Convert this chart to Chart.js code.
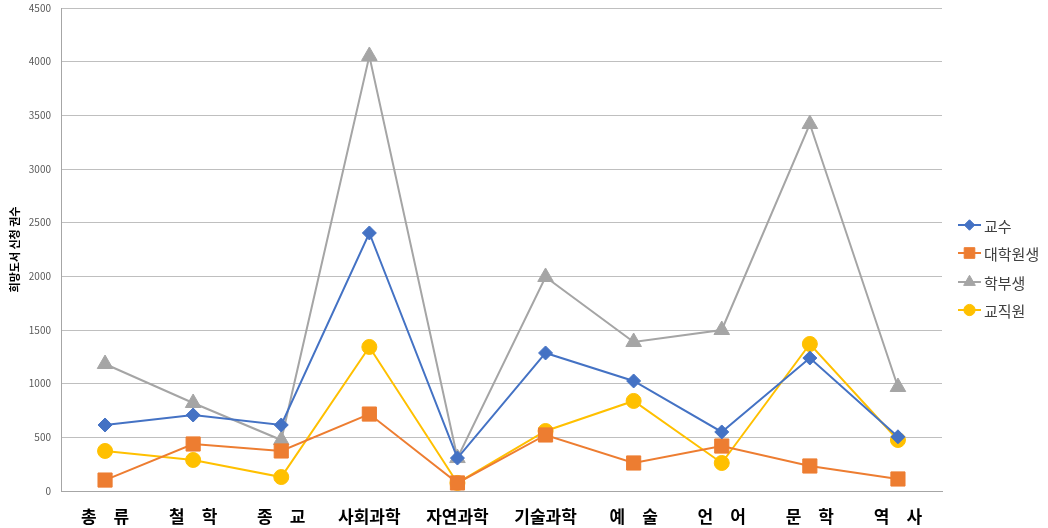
<!DOCTYPE html>
<html>
<head>
<meta charset="utf-8">
<script src="https://cdn.jsdelivr.net/npm/chart.js@4"></script>
<style>
  html, body { margin: 0; padding: 0; background: #fff; }
  #wrap { width: 1048px; height: 528px; position: relative; }
</style>
</head>
<body>
<div id="wrap"><canvas id="chart"></canvas></div>
<script>
// categories (subject classes)
const categories = ['총\u3000류', '철\u3000학', '종\u3000교', '사회과학', '자연과학', '기술과학', '예\u3000술', '언\u3000어', '문\u3000학', '역\u3000사'];

// requested books per user group
const professors = [615, 708, 615, 2404, 307, 1286, 1025, 550, 1239, 505];
const gradStudents = [102, 438, 373, 717, 75, 522, 261, 419, 233, 112];
const undergrads = [1183, 820, 475, 4053, 307, 1994, 1388, 1500, 3419, 969];
const staff = [373, 289, 130, 1342, 75, 559, 839, 261, 1370, 475];

const seriesNames = ['교수', '대학원생', '학부생', '교직원'];
const yTicks = [0, 500, 1000, 1500, 2000, 2500, 3000, 3500, 4000, 4500];

const FONT = "'Noto Sans CJK KR', 'Noto Sans', sans-serif";

function makeSet(label, data, color, style, radius) {
    return {
        label: label,
        data: data,
        borderColor: color,
        backgroundColor: color,
        borderWidth: 2,
        pointStyle: style,
        pointRadius: radius,
        pointHoverRadius: radius,
        pointBorderWidth: 1,
        tension: 0
    };
}

// legend on the right: short line with the marker, then the name
const sideLegend = {
    id: 'sideLegend',
    afterDraw(chart) {
        const c = chart.ctx;
        const rows = [225, 253, 282, 310];
        chart.data.datasets.forEach((ds, i) => {
            const y = rows[i];
            c.save();
            c.strokeStyle = ds.borderColor;
            c.lineWidth = 2;
            c.beginPath();
            c.moveTo(958, y);
            c.lineTo(981, y);
            c.stroke();
            c.fillStyle = ds.backgroundColor;
            c.lineWidth = 1;
            Chart.helpers.drawPoint(c, {
                pointStyle: ds.pointStyle,
                rotation: 0,
                radius: ds.pointRadius * 0.75,
                borderWidth: 1
            }, 969.5, y);
            c.restore();
            c.fillStyle = '#404040';
            c.font = '15px ' + FONT;
            c.textBaseline = 'middle';
            c.fillText(ds.label, 984, y + 1);
        });
    }
};

const ctx = document.getElementById('chart');
new Chart(ctx, {
    type: 'line',
    data: {
        labels: categories,
        datasets: [
            makeSet(seriesNames[0], professors, '#4472C4', 'rectRot', 7),
            makeSet(seriesNames[1], gradStudents, '#ED7D31', 'rect', 10),
            makeSet(seriesNames[2], undergrads, '#A5A5A5', 'triangle', 9),
            makeSet(seriesNames[3], staff, '#FFC000', 'circle', 7.5)
        ]
    },
    options: {
        responsive: true,
        maintainAspectRatio: false,
        animation: false,
        layout: { autoPadding: false, padding: { top: 8, right: 106, bottom: 0, left: 8 } },
        plugins: {
            legend: { display: false },
            tooltip: { enabled: false }
        },
        scales: {
            x: {
                offset: true,
                grid: { display: false },
                border: { color: '#A6A6A6', width: 1 },
                ticks: {
                    color: '#000',
                    font: { family: FONT, size: 17, weight: 'bold' },
                    maxRotation: 0,
                    autoSkip: false,
                    padding: 7
                },
                afterFit(scale) { scale.height = 37; }
            },
            y: {
                min: 0,
                max: 4500,
                afterBuildTicks(scale) { scale.ticks = yTicks.map(v => ({ value: v })); },
                grid: { color: '#BFBFBF', lineWidth: 1, drawTicks: false },
                border: { color: '#A6A6A6', width: 1 },
                ticks: {
                    color: '#595959',
                    font: { family: FONT, size: 10 },
                    padding: 10,
                    callback: v => String(v)
                },
                title: {
                    display: true,
                    text: '희망도서 신청 권수',
                    color: '#000',
                    font: { family: FONT, size: 11, weight: 'bold' },
                    padding: { top: 0, bottom: 0 }
                },
                afterFit(scale) {
                    scale.width = 53;
                    scale.paddingTop = 6;
                    scale.paddingBottom = 6;
                }
            }
        }
    },
    plugins: [sideLegend]
});
</script>
</body>
</html>
